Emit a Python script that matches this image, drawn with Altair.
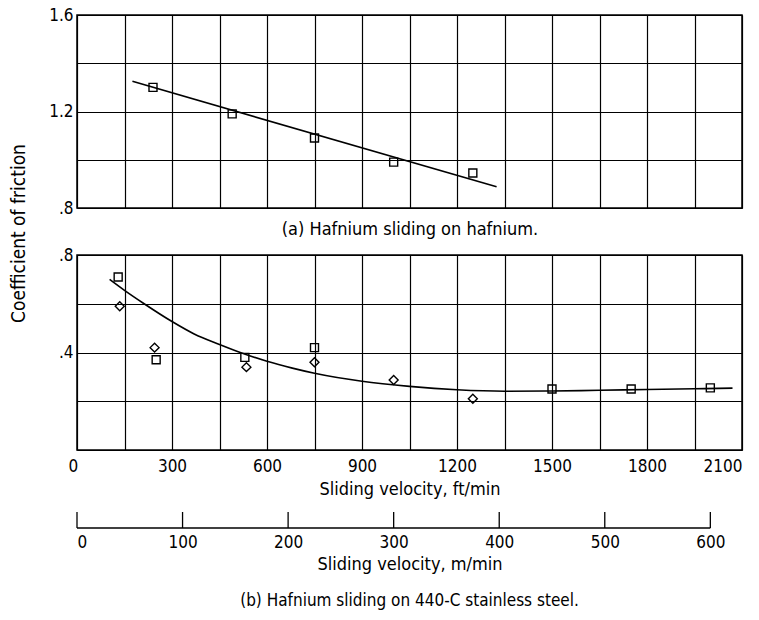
import altair as alt
import pandas as pd

# ---------------- data ----------------
# (a) Hafnium sliding on hafnium
a_ft = [240, 490, 750, 1000, 1250]
a_cof = [1.30, 1.19, 1.09, 0.99, 0.945]
a_fit_ft = [175, 1325]
a_fit_cof = [1.325, 0.888]

# (b) Hafnium sliding on 440-C stainless steel
b_sq_ft = [130, 250, 530, 750, 1500, 1750, 2000]
b_sq_cof = [0.71, 0.37, 0.38, 0.42, 0.25, 0.25, 0.255]
b_di_ft = [135, 245, 535, 750, 1000, 1250]
b_di_cof = [0.59, 0.42, 0.34, 0.36, 0.287, 0.21]
b_fit_ft = [103, 150, 212, 300, 370, 450, 520, 600, 680, 750, 900, 1050, 1200, 1350, 1500, 1650, 1800, 1950, 2070]
b_fit_cof = [0.700, 0.655, 0.600, 0.527, 0.476, 0.433, 0.398, 0.364, 0.336, 0.315, 0.282, 0.261, 0.247, 0.241, 0.242, 0.245, 0.248, 0.251, 0.254]

ft_grid = list(range(0, 2101, 150))
m_ticks = [0, 100, 200, 300, 400, 500, 600]
top_y_grid = [0.8, 1.0, 1.2, 1.4, 1.6]
bot_y_grid = [0.0, 0.2, 0.4, 0.6, 0.8]

FONT = "Liberation Sans Narrow, DejaVu Sans Condensed, DejaVu Sans, sans-serif"
W = 665

df_a = pd.DataFrame({"ft": a_ft, "cof": a_cof})
df_a_fit = pd.DataFrame({"ft": a_fit_ft, "cof": a_fit_cof})
df_sq = pd.DataFrame({"ft": b_sq_ft, "cof": b_sq_cof})
df_di = pd.DataFrame({"ft": b_di_ft, "cof": b_di_cof})
df_b_fit = pd.DataFrame({"ft": b_fit_ft, "cof": b_fit_cof})
df_m = pd.DataFrame({"m": m_ticks})
df_m_line = pd.DataFrame({"m0": [m_ticks[0]], "m1": [m_ticks[-1]]})

xs = alt.Scale(domain=[0, 2100], nice=False, zero=False)

# ---------------- panel (a) ----------------
x_top = alt.X("ft:Q", scale=xs, axis=alt.Axis(
    values=ft_grid, labels=False, ticks=False, domain=False,
    title="(a) Hafnium sliding on hafnium.", titlePadding=12))
y_top = alt.Y("cof:Q", scale=alt.Scale(domain=[0.8, 1.6], nice=False, zero=False),
              axis=alt.Axis(values=top_y_grid,
                            labelExpr="datum.value == 1.6 ? '1.6' : (datum.value == 1.2 ? '1.2' : (datum.value == 0.8 ? '.8' : ''))",
                            title="Coefficient of friction", titleX=-59, titleY=218,
                            titleAngle=270, titleAlign="center", titleBaseline="middle",
                            titleFontSize=19))

top_pts = alt.Chart(df_a).mark_point(shape="square", filled=False, color="black",
                                     size=64, strokeWidth=1.4, opacity=1).encode(x=x_top, y=y_top)
top_line = alt.Chart(df_a_fit).mark_line(color="black", strokeWidth=1.6).encode(x="ft:Q", y="cof:Q")
top = alt.layer(top_line, top_pts).properties(width=W, height=193)

# ---------------- panel (b) ----------------
x_bot = alt.X("ft:Q", scale=xs, axis=alt.Axis(
    values=ft_grid, format="d", ticks=False, domain=False,
    labelExpr="datum.value % 300 == 0 ? datum.label : ''",
    labelOffset={"condition": {"test": "datum.value == 0", "value": -9}, "value": 0},
    labelPadding=8, title="Sliding velocity, ft/min", titlePadding=6))
y_bot = alt.Y("cof:Q", scale=alt.Scale(domain=[0, 0.8], nice=False, zero=False),
              axis=alt.Axis(values=bot_y_grid,
                            labelExpr="datum.value == 0.8 ? '.8' : (datum.value == 0.4 ? '.4' : '')",
                            title=None))

bot_line = alt.Chart(df_b_fit).mark_line(color="black", strokeWidth=1.6, interpolate="monotone").encode(x=x_bot, y=y_bot)
bot_sq = alt.Chart(df_sq).mark_point(shape="square", filled=False, color="black",
                                     size=64, strokeWidth=1.4, opacity=1).encode(x="ft:Q", y="cof:Q")
bot_di = alt.Chart(df_di).mark_point(shape="diamond", filled=False, color="black",
                                     size=80, strokeWidth=1.4, opacity=1).encode(x="ft:Q", y="cof:Q")
bottom = alt.layer(bot_line, bot_sq, bot_di).properties(width=W, height=195)

# ---------------- secondary scale (m/min) ----------------
ms = alt.Scale(domain=[0, 630], nice=False, zero=False)
m_tick_marks = alt.Chart(df_m).mark_rule(color="black", strokeWidth=1.3).encode(
    x=alt.X("m:Q", scale=ms, axis=alt.Axis(values=m_ticks, format="d", ticks=False, domain=False,
                                           grid=False, labelPadding=6,
                                           title="Sliding velocity,  m/min", titlePadding=5)),
    y=alt.value(15), y2=alt.value(31))
m_base = alt.Chart(df_m_line).mark_rule(color="black", strokeWidth=1.3).encode(
    x=alt.X("m0:Q", scale=ms), x2="m1:Q", y=alt.value(31))
third = alt.layer(m_tick_marks, m_base).properties(
    width=W, height=31,
    view=alt.ViewBackground(stroke="transparent"),
    title=alt.TitleParams("(b) Hafnium sliding on 440-C stainless steel.", orient="bottom",
                          anchor="middle", offset=20, font=FONT, fontSize=17,
                          fontWeight="normal", color="black"))

chart = alt.vconcat(top, bottom, third, spacing=47, bounds="flush").properties(
    padding={"left": 8, "top": 5, "right": 10, "bottom": 5},
    background="white"
).configure_view(
    stroke="black", strokeWidth=1.5
).configure_axis(
    labelFont=FONT, titleFont=FONT, labelColor="black", titleColor="black",
    labelFontSize=17, titleFontSize=18, titleFontWeight="normal",
    gridColor="black", gridOpacity=1, gridWidth=1.2, ticks=False, domain=False,
    labelPadding=4
)

chart.save("out.html", embed_options={"renderer": "svg", "actions": False})
